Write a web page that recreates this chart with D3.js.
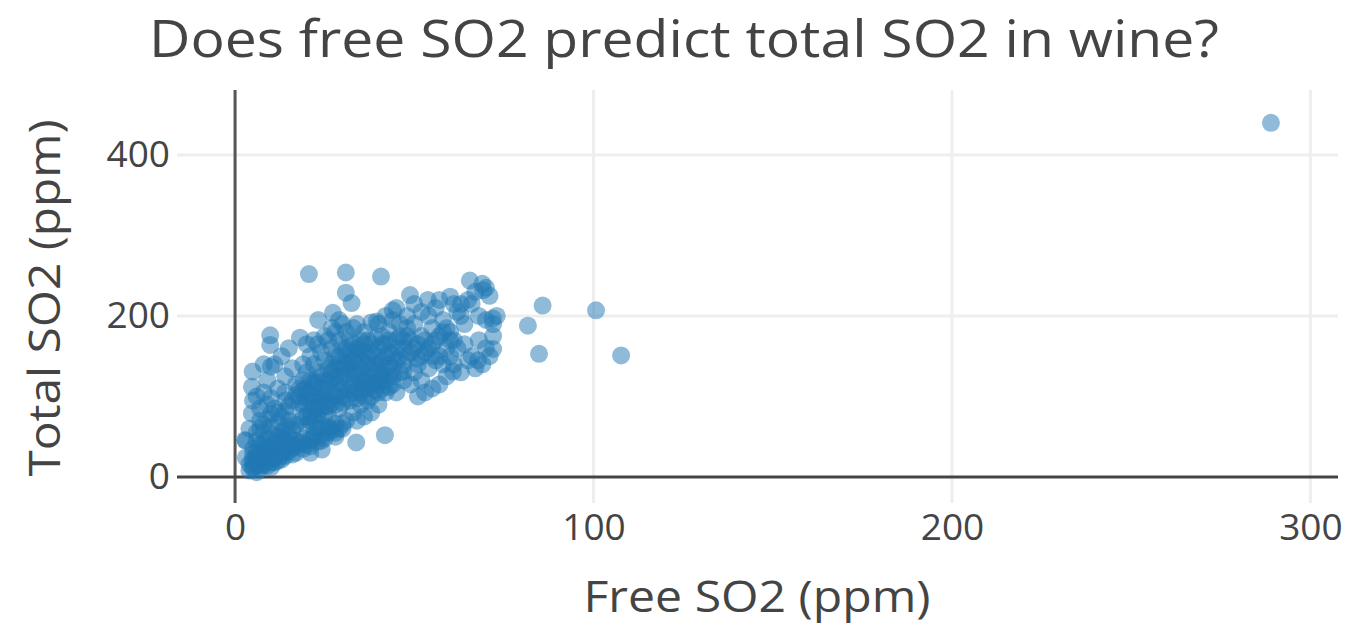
<!DOCTYPE html>
<html>
<head>
<meta charset="utf-8">
<script src="https://cdn.jsdelivr.net/npm/d3@7"></script>
<style>
body { margin: 0; background: #fff; }
text { font-family: "Open Sans", sans-serif; fill: #444; }
</style>
</head>
<body>
<div id="canvas"></div>
<script>
"use strict"

let svgWidth = 1348
let svgHeight = 628

/* plot area, in page pixels */
let plotLeft = 177
let plotRight = 1338
let plotTop = 90
let plotBottom = 503

let chartTitle = "Does free SO2 predict total SO2 in wine?"
let xTitle = "Free SO2 (ppm)"
let yTitle = "Total SO2 (ppm)"

let xTicks = [0, 100, 200, 300]
let yTicks = [0, 200, 400]

/* [free SO2, total SO2] */
let outliers = [
  [289, 440], [20.6, 252], [30.9, 254], [40.7, 249], [30.9, 229], [32.5, 216],
  [65.5, 244], [69.2, 232], [85.8, 213], [100.7, 207], [81.7, 188], [71.9, 197],
  [84.8, 153], [107.7, 151], [72, 159], [67.8, 145], [60.8, 131], [41.8, 52],
  [33.8, 43], [9.8, 176], [9.8, 164], [4.9, 131], [4.7, 112], [4.7, 79],
  [2.8, 46], [24.2, 34], [18.1, 173], [23.2, 195], [27.3, 204], [48.8, 226],
  [53.8, 220], [60, 224], [39.5, 193], [44, 207], [46.9, 131], [50.7, 147], [10, 137]
]

let lowBand = [
  [4, 8], [5, 12], [6, 14], [5, 18], [7, 10], [8, 15], [6, 22], [9, 20], [10, 24], [7, 28],
  [11, 18], [12, 30], [13, 26], [14, 34], [9, 38], [15, 40], [16, 36], [17, 45], [12, 44], [11, 52],
  [19, 42], [22, 48], [14, 60], [8, 32], [10, 12], [6, 6], [4, 16], [3, 24], [5, 35], [13, 22],
  [16, 28], [21, 38], [24, 45], [23, 60], [26, 55], [15, 70], [25, 75], [28, 66], [6, 45], [8, 55],
  [7, 70], [10, 62], [12, 80], [9, 90], [4, 60], [3, 45], [5, 28], [7, 40], [9, 48], [11, 35],
  [13, 48], [15, 52], [17, 30], [19, 35], [21, 30], [8, 25], [6, 32],
  [5, 10], [6, 18], [7, 15], [8, 20], [9, 14], [10, 18], [11, 24], [12, 20], [13, 30], [14, 26],
  [15, 32], [16, 40], [17, 38], [18, 44], [19, 48], [20, 40], [21, 46], [22, 52], [23, 44], [24, 52],
  [25, 48], [26, 62], [27, 58], [28, 50], [29, 60], [30, 66], [5, 22], [6, 26], [7, 34], [8, 42],
  [9, 30], [10, 36], [11, 42], [12, 50], [13, 56], [14, 45], [15, 62], [16, 58], [17, 65], [18, 70],
  [19, 75], [20, 64], [21, 80], [22, 72], [23, 86], [24, 92], [6, 55], [7, 60], [8, 65], [9, 72],
  [10, 78], [11, 85], [12, 68], [13, 75], [14, 82], [15, 88], [16, 95], [17, 102], [18, 92], [19, 108]
]

let leftColumn = [
  [5, 95], [6, 100], [8, 105], [9, 120], [11, 140], [12, 110], [14, 125], [13, 150], [15, 160],
  [8, 140], [7, 85], [10, 98], [16, 135], [17, 115], [19, 140], [20, 165], [22, 170], [14, 105]
]

let core = [
  [20, 90], [22, 100], [24, 110], [25, 120], [26, 95], [27, 130], [28, 115], [29, 140], [30, 125], [31, 150],
  [32, 135], [33, 105], [34, 160], [35, 145], [36, 120], [37, 170], [38, 155], [39, 130], [40, 140], [41, 165],
  [42, 150], [43, 180], [44, 125], [45, 160], [23, 130], [25, 145], [27, 160], [29, 170], [31, 180], [33, 185],
  [21, 120], [24, 85], [26, 75], [28, 90], [30, 100], [32, 95], [34, 110], [36, 100], [38, 115], [40, 105],
  [42, 120], [18, 100], [21, 70], [23, 78], [20, 110], [22, 140], [24, 155], [26, 170], [28, 180], [30, 190],
  [32, 170], [34, 190], [36, 180], [38, 192], [35, 135], [37, 140], [39, 150], [41, 130], [43, 140], [45, 145],
  [30, 110], [27, 105], [25, 100], [29, 85], [31, 70], [33, 80], [35, 90], [37, 95], [32, 120], [34, 128],
  [36, 155], [28, 150], [26, 135], [24, 125], [22, 118], [20, 130], [19, 120], [21, 150], [23, 165], [25, 175],
  [27, 185], [29, 195], [31, 160], [33, 145], [35, 170], [37, 125], [39, 118], [41, 110], [44, 135], [46, 150],
  [47, 170], [48, 185], [46, 130], [44, 115], [40, 90], [38, 80], [36, 75], [34, 70], [30, 60], [28, 55],
  [26, 60], [24, 65], [22, 62], [20, 75], [14, 95],
  [25, 110], [26, 118], [27, 122], [28, 125], [29, 118], [30, 135], [31, 128], [32, 142], [33, 128], [34, 140],
  [35, 118], [36, 130], [37, 110], [38, 135], [39, 140], [40, 120], [41, 145], [42, 135], [43, 125], [44, 150],
  [26, 88], [27, 92], [28, 100], [29, 105], [30, 92], [31, 98], [32, 108], [33, 115], [34, 98], [35, 105],
  [36, 110], [37, 118], [38, 100], [39, 108], [40, 115], [41, 122], [42, 105], [43, 112], [27, 140], [28, 135],
  [29, 150], [30, 160], [31, 140], [32, 155], [33, 165], [34, 150], [35, 158], [36, 165], [37, 150], [38, 165],
  [39, 172], [40, 160], [41, 175], [42, 165], [43, 155], [45, 170], [46, 175], [47, 140], [48, 150], [49, 155],
  [50, 160], [51, 165], [52, 150], [53, 170], [54, 160], [55, 150], [56, 170], [57, 175], [58, 180], [59, 185],
  [60, 170], [23, 100], [24, 98], [25, 88], [22, 85], [21, 95], [20, 100], [19, 90], [18, 110], [21, 105],
  [22, 112], [23, 118]
]

let upperRight = [
  [48, 200], [50, 190], [52, 175], [54, 200], [55, 185], [56, 210], [58, 195], [60, 180], [62, 205], [64, 190],
  [66, 215], [68, 200], [70, 235], [71, 225], [69, 240], [67, 230], [65, 220], [63, 215], [61, 170], [59, 160],
  [57, 150], [55, 165], [53, 155], [51, 140], [49, 170], [47, 160], [50, 130], [52, 120], [54, 135], [56, 145],
  [58, 140], [60, 150], [62, 160], [64, 165], [66, 150], [68, 170], [70, 160], [72, 175], [71, 150], [69, 140],
  [67, 135], [65, 145], [63, 130], [61, 140], [59, 125], [57, 115], [55, 110], [53, 105], [51, 100], [49, 115],
  [47, 120], [45, 105], [46, 190], [48, 175], [44, 195], [42, 200], [40, 190], [43, 170], [45, 210], [50, 215],
  [52, 205], [57, 220], [61, 215], [63, 200], [70, 195], [72, 190], [73, 200]
]

let wines = outliers.concat(lowBand, leftColumn, core, upperRight)

/* SVG canvas */
let svg = d3.select("#canvas")
  .append("svg")
  .attr("width", svgWidth)
  .attr("height", svgHeight)

/* Scales */
let xScale = d3.scaleLinear()
  .domain([-16.2, 307.7])
  .range([plotLeft, plotRight])

let yScale = d3.scaleLinear()
  .domain([-32.3, 480.7])
  .range([plotBottom, plotTop])

/* grid lines */
svg.append("g")
  .selectAll("line")
  .data(xTicks.filter(d => d != 0))
  .join("line")
  .attr("x1", d => xScale(d))
  .attr("x2", d => xScale(d))
  .attr("y1", plotTop)
  .attr("y2", plotBottom)
  .attr("stroke", "#eee")
  .attr("stroke-width", 3)

svg.append("g")
  .selectAll("line")
  .data(yTicks.filter(d => d != 0))
  .join("line")
  .attr("x1", plotLeft)
  .attr("x2", plotRight)
  .attr("y1", d => yScale(d))
  .attr("y2", d => yScale(d))
  .attr("stroke", "#eee")
  .attr("stroke-width", 3)

/* zero lines */
svg.append("line")
  .attr("x1", xScale(0))
  .attr("x2", xScale(0))
  .attr("y1", plotTop)
  .attr("y2", plotBottom)
  .attr("stroke", "#555")
  .attr("stroke-width", 3)

svg.append("line")
  .attr("x1", plotLeft)
  .attr("x2", plotRight)
  .attr("y1", yScale(0))
  .attr("y2", yScale(0))
  .attr("stroke", "#444")
  .attr("stroke-width", 3)

/* axes, labels only */
svg.append("g")
  .attr("transform", "translate(0," + plotBottom + ")")
  .call(d3.axisBottom(xScale).tickValues(xTicks).tickSize(0).tickPadding(11))

svg.append("g")
  .attr("transform", "translate(" + plotLeft + ",0)")
  .call(d3.axisLeft(yScale).tickValues(yTicks).tickSize(0).tickPadding(7))

svg.selectAll(".domain").remove()
svg.selectAll(".tick text")
  .attr("font-family", "Open Sans, sans-serif")
  .attr("font-size", 37)
  .attr("fill", "#444")

/* points */
svg.append("g")
  .selectAll("circle")
  .data(wines)
  .join("circle")
  .attr("cx", d => xScale(d[0]))
  .attr("cy", d => yScale(d[1]))
  .attr("r", 9)
  .attr("fill", "#1f77b4")
  .attr("opacity", 0.5)

/* titles */
svg.append("text")
  .attr("x", 684)
  .attr("y", 57)
  .attr("text-anchor", "middle")
  .attr("font-size", 52)
  .attr("textLength", 1070)
  .attr("lengthAdjust", "spacingAndGlyphs")
  .text(chartTitle)

svg.append("text")
  .attr("x", 757)
  .attr("y", 612)
  .attr("text-anchor", "middle")
  .attr("font-size", 44)
  .attr("textLength", 347)
  .attr("lengthAdjust", "spacingAndGlyphs")
  .text(xTitle)

svg.append("text")
  .attr("transform", "translate(60," + 298 + ") rotate(-90)")
  .attr("text-anchor", "middle")
  .attr("font-size", 44)
  .attr("textLength", 357)
  .attr("lengthAdjust", "spacingAndGlyphs")
  .text(yTitle)
</script>
</body>
</html>
